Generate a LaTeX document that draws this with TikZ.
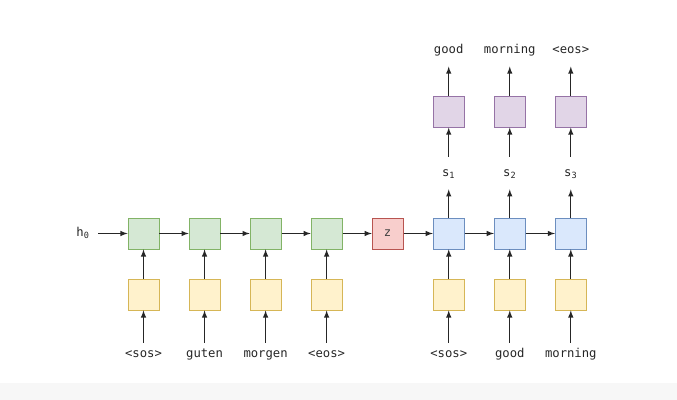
\documentclass[tikz,border=0pt]{standalone}
\usepackage{fontspec}
\setmonofont{DejaVu Sans Mono}
\usepackage{tikz}
\usetikzlibrary{shapes,arrows,positioning}
\definecolor{encfill}{HTML}{D5E8D4}\definecolor{encline}{HTML}{82B366}
\definecolor{embfill}{HTML}{FFF2CC}\definecolor{embline}{HTML}{D6B656}
\definecolor{ctxfill}{HTML}{F8CECC}\definecolor{ctxline}{HTML}{B85450}
\definecolor{decfill}{HTML}{DAE8FC}\definecolor{decline}{HTML}{6C8EBF}
\definecolor{prdfill}{HTML}{E1D5E7}\definecolor{prdline}{HTML}{9673A6}
\tikzstyle{cell} = [rectangle, minimum width=0.775cm, minimum height=0.775cm, inner sep=0pt, line width=0.6pt]
\tikzstyle{enc} = [cell, fill=encfill, draw=encline]
\tikzstyle{emb} = [cell, fill=embfill, draw=embline]
\tikzstyle{ctx} = [cell, fill=ctxfill, draw=ctxline, text=black!75]
\tikzstyle{dec} = [cell, fill=decfill, draw=decline]
\tikzstyle{prd} = [cell, fill=prdfill, draw=prdline]
\tikzstyle{word} = [inner sep=0pt, minimum height=0.8cm, text height=1.6ex, text depth=0.45ex, text=black!85]
\tikzstyle{inword} = [inner sep=0pt, minimum height=0.55cm, text height=1.6ex, text depth=0.45ex, text=black!85]
\tikzstyle{arrow} = [line width=0.75pt, draw=black!85, ->, >=latex]

\begin{document}
\begin{tikzpicture}[node distance=0.73cm, font=\fontsize{8.7}{10}\selectfont\ttfamily]
\useasboundingbox (0,0) rectangle (16.925,10);
\fill[black!3] (0,0) rectangle (16.925,0.425);

% encoder
\node(e1)   [enc] at (3.5875,4.1625) {};
\node(e2)   [enc, right=of e1] {};
\node(e3)   [enc, right=of e2] {};
\node(e4)   [enc, right=of e3] {};
\node(z)    [ctx, right=of e4] {z};
\node(h0)   [word, minimum width=0.75cm, left=of e1] {h\textsubscript{0}};

% decoder
\node(d1)   [dec, right=of z] {};
\node(d2)   [dec, right=of d1] {};
\node(d3)   [dec, right=of d2] {};

% embeddings
\node(x1)   [emb, below=of e1] {};
\node(x2)   [emb, below=of e2] {};
\node(x3)   [emb, below=of e3] {};
\node(x4)   [emb, below=of e4] {};
\node(y1)   [emb, below=of d1] {};
\node(y2)   [emb, below=of d2] {};
\node(y3)   [emb, below=of d3] {};

% input tokens
\node(w1)   [inword, below=0.805cm of x1] {<sos>};
\node(w2)   [inword, below=0.805cm of x2] {guten};
\node(w3)   [inword, below=0.805cm of x3] {morgen};
\node(w4)   [inword, below=0.805cm of x4] {<eos>};
\node(v1)   [inword, below=0.805cm of y1] {<sos>};
\node(v2)   [inword, below=0.805cm of y2] {good};
\node(v3)   [inword, below=0.805cm of y3] {morning};

% states and outputs
\node(s1)   [word, above=0.705cm of d1] {s\textsubscript{1}};
\node(s2)   [word, above=0.705cm of d2] {s\textsubscript{2}};
\node(s3)   [word, above=0.705cm of d3] {s\textsubscript{3}};
\node(p1)   [prd, above=of s1] {};
\node(p2)   [prd, above=of s2] {};
\node(p3)   [prd, above=of s3] {};
\node(o1)   [word, above=of p1] {good};
\node(o2)   [word, above=of p2] {morning};
\node(o3)   [word, above=of p3] {<eos>};

\draw [arrow] (h0) -- (e1);
\draw [arrow] (e1) -- (e2);
\draw [arrow] (e2) -- (e3);
\draw [arrow] (e3) -- (e4);
\draw [arrow] (e4) -- (z);
\draw [arrow] (z)  -- (d1);
\draw [arrow] (d1) -- (d2);
\draw [arrow] (d2) -- (d3);

\draw [arrow] (w1) -- (x1);
\draw [arrow] (w2) -- (x2);
\draw [arrow] (w3) -- (x3);
\draw [arrow] (w4) -- (x4);
\draw [arrow] (v1) -- (y1);
\draw [arrow] (v2) -- (y2);
\draw [arrow] (v3) -- (y3);

\draw [arrow] (x1) -- (e1);
\draw [arrow] (x2) -- (e2);
\draw [arrow] (x3) -- (e3);
\draw [arrow] (x4) -- (e4);
\draw [arrow] (y1) -- (d1);
\draw [arrow] (y2) -- (d2);
\draw [arrow] (y3) -- (d3);

\draw [arrow] (d1) -- (s1);
\draw [arrow] (d2) -- (s2);
\draw [arrow] (d3) -- (s3);
\draw [arrow] (s1) -- (p1);
\draw [arrow] (s2) -- (p2);
\draw [arrow] (s3) -- (p3);
\draw [arrow] (p1) -- (o1);
\draw [arrow] (p2) -- (o2);
\draw [arrow] (p3) -- (o3);

\end{tikzpicture}
\end{document}
